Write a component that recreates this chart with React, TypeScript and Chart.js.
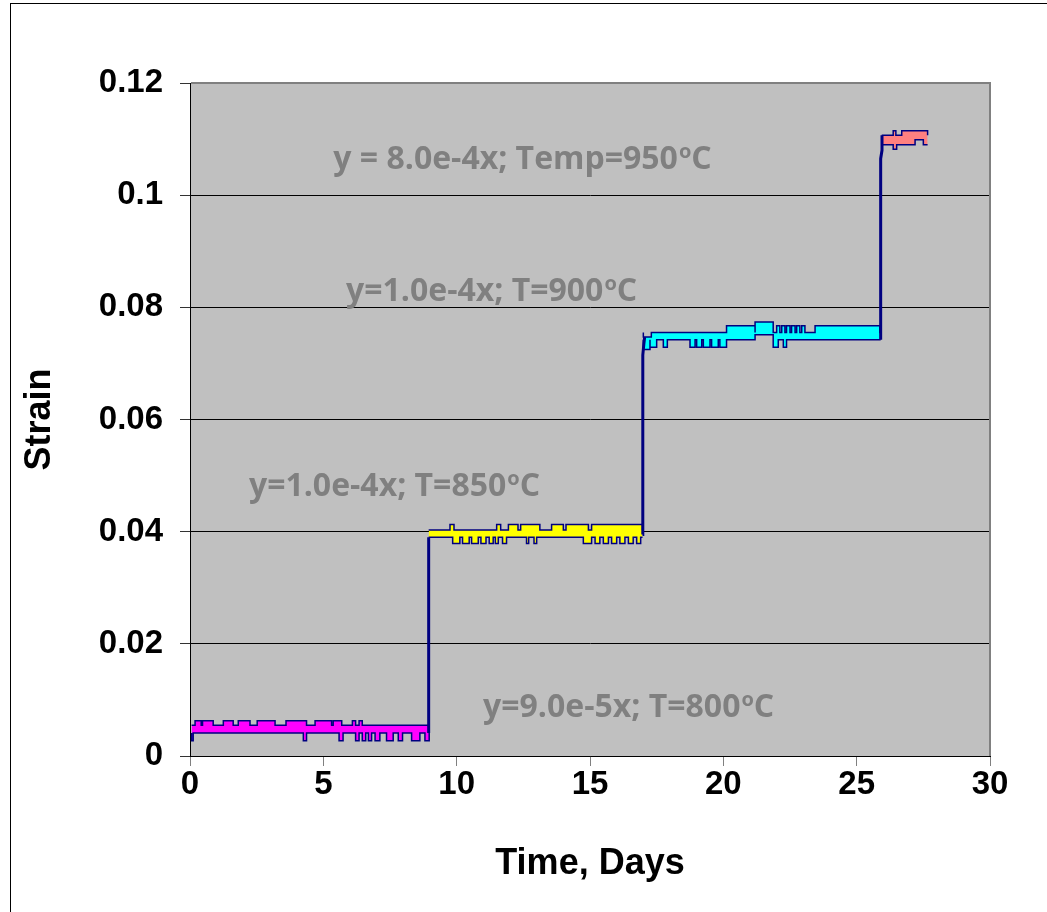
import { useEffect, useRef } from 'react';
import { Chart, registerables } from 'chart.js';

Chart.register(...registerables);

type Span = [number, number, number]; // [startDay, endDay, strain level]

const xTickValues = [0, 5, 10, 15, 20, 25, 30];
const yTickValues = [0, 0.02, 0.04, 0.06, 0.08, 0.1, 0.12];
const yTickLabels = ['0', '0.02', '0.04', '0.06', '0.08', '0.1', '0.12'];

// 800 °C band (magenta)
const magentaSpan = [0.06, 8.97];
const magentaTop = 0.0055;
const magentaBottom = 0.0041;
const magentaPeaks: Span[] = [
  [0.19, 0.42, 0.0063], [0.47, 0.87, 0.0063], [1.25, 1.62, 0.0063], [1.81, 2.25, 0.0063],
  [2.52, 3.19, 0.0063], [3.6, 4.37, 0.0063], [4.69, 5.31, 0.0063], [5.37, 5.69, 0.0063],
  [6.09, 6.21, 0.0063], [6.34, 6.46, 0.0063],
];
const magentaDips: Span[] = [
  [0.06, 0.12, 0.0027], [4.25, 4.37, 0.0027], [5.59, 5.74, 0.0027], [6.21, 6.34, 0.0027],
  [6.46, 6.59, 0.0027], [6.69, 6.81, 0.0027], [6.94, 7.12, 0.0027], [7.37, 7.62, 0.0027],
  [7.81, 7.97, 0.0027], [8.31, 8.62, 0.0027], [8.81, 8.97, 0.0027],
];

// 850 °C band (yellow)
const yellowSpan = [8.95, 16.97];
const yellowTop = 0.0403;
const yellowBottom = 0.039;
const yellowPeaks: Span[] = [
  [9.75, 9.9, 0.0413], [11.5, 11.65, 0.0413], [11.94, 12.3, 0.0413], [12.4, 13.12, 0.0413],
  [13.56, 14.0, 0.0413], [14.1, 14.94, 0.0413], [15.06, 16.97, 0.0413],
];
const yellowDips: Span[] = [
  [9.85, 10.12, 0.0379], [10.22, 10.47, 0.0379], [10.56, 10.81, 0.0379], [10.91, 11.1, 0.0379],
  [11.22, 11.37, 0.0379], [11.45, 11.56, 0.0379], [11.72, 11.87, 0.0379], [12.62, 12.7, 0.0379],
  [12.9, 13.0, 0.0379], [14.75, 15.06, 0.0379], [15.19, 15.37, 0.0379], [15.5, 15.69, 0.0379],
  [15.81, 16.0, 0.0379], [16.12, 16.31, 0.0379], [16.44, 16.62, 0.0379], [16.75, 16.9, 0.0379],
];

// 900 °C band (cyan)
const cyanSpan = [17.0, 25.9];
const cyanTop = 0.0755;
const cyanBottom = 0.0742;
const cyanPeaks: Span[] = [
  [17.0, 17.3, 0.0747], [20.12, 21.19, 0.0767], [21.19, 21.87, 0.0774], [22.0, 22.12, 0.0767],
  [22.19, 22.31, 0.0767], [22.37, 22.5, 0.0767], [22.56, 22.69, 0.0767], [22.75, 22.87, 0.0767],
  [22.94, 23.06, 0.0767], [23.44, 25.87, 0.0767],
];
const cyanDips: Span[] = [
  [17.0, 17.25, 0.0725], [17.25, 17.5, 0.0729], [17.75, 17.9, 0.0729], [18.75, 18.94, 0.0729],
  [19.0, 19.19, 0.0729], [19.25, 19.5, 0.0729], [19.56, 19.81, 0.0729], [19.87, 20.12, 0.0729],
  [21.19, 21.87, 0.0751], [21.87, 22.06, 0.0729], [22.25, 22.37, 0.0729],
];

// 950 °C band (salmon)
const salmonSpan = [25.94, 27.66];
const salmonTop = 0.1107;
const salmonBottom = 0.109;
const salmonPeaks: Span[] = [[26.37, 26.47, 0.1115], [26.69, 27.66, 0.1115]];
const salmonDips: Span[] = [[26.37, 26.5, 0.1082], [27.19, 27.5, 0.1099]];

// temperature-change jumps (navy line)
const jump1Days = [8.95, 8.95];
const jump1Strain = [0.0041, 0.039];
const jump2Days = [16.97, 16.98, 17.02, 17.05];
const jump2Strain = [0.0395, 0.0715, 0.0735, 0.0747];
const jump3Days = [25.9, 25.9, 25.95, 25.95];
const jump3Strain = [0.0742, 0.1065, 0.108, 0.1107];

// fit annotations
const noteTexts = ['y = 8.0e-4x; Temp=950', 'y=1.0e-4x; T=900', 'y=1.0e-4x; T=850', 'y=9.0e-5x; T=800'];
const noteDays = [5.375, 5.85, 2.21, 10.99];
const noteStrain = [0.1046, 0.0812, 0.0464, 0.007];

const NAVY = '#000080';

function stepLine(start: number, end: number, base: number, spans: Span[]) {
  const pts: { x: number; y: number }[] = [{ x: start, y: base }];
  for (const [a, b, v] of spans) {
    pts.push({ x: a, y: base }, { x: a, y: v }, { x: b, y: v }, { x: b, y: base });
  }
  pts.push({ x: end, y: base });
  return pts;
}

function bandDatasets(span: number[], top: number, bottom: number, peaks: Span[], dips: Span[], color: string) {
  return [
    {
      data: stepLine(span[0], span[1], top, peaks),
      borderColor: NAVY, borderWidth: 1.5, pointRadius: 0, fill: false, tension: 0,
    },
    {
      data: stepLine(span[0], span[1], bottom, dips),
      borderColor: NAVY, borderWidth: 1.5, pointRadius: 0, fill: '-1', backgroundColor: color, tension: 0,
    },
  ];
}

function jumpDataset(days: number[], strain: number[]) {
  return {
    data: days.map((d, i) => ({ x: d, y: strain[i] })),
    borderColor: NAVY, borderWidth: 3, pointRadius: 0, fill: false, tension: 0,
  };
}

const plotPlugin = {
  id: 'plotDecor',
  beforeDraw(chart: any) {
    const { ctx, chartArea: a } = chart;
    ctx.save();
    ctx.fillStyle = '#C0C0C0';
    ctx.fillRect(a.left, a.top, a.right - a.left, a.bottom - a.top);
    ctx.restore();
  },
  beforeDatasetsDraw(chart: any) {
    const { ctx, chartArea: a } = chart;
    ctx.save();
    ctx.strokeStyle = '#808080';
    ctx.lineWidth = 2;
    ctx.beginPath();
    ctx.moveTo(a.left + 1, a.top);
    ctx.lineTo(a.right, a.top);
    ctx.lineTo(a.right, a.bottom);
    ctx.stroke();
    ctx.restore();
  },
  afterDatasetsDraw(chart: any) {
    const { ctx } = chart;
    const xs = chart.scales.x;
    const ys = chart.scales.y;
    ctx.save();
    ctx.fillStyle = '#808080';
    ctx.textAlign = 'left';
    ctx.textBaseline = 'alphabetic';
    noteTexts.forEach((t, i) => {
      const px = xs.getPixelForValue(noteDays[i]);
      const py = ys.getPixelForValue(noteStrain[i]);
      ctx.font = 'bold 32px "Open Sans"';
      ctx.fillText(t, px, py);
      let w = ctx.measureText(t).width;
      ctx.font = 'bold 20px "Open Sans"';
      ctx.fillText('o', px + w + 1, py - 11);
      w += ctx.measureText('o').width + 1;
      ctx.font = 'bold 32px "Open Sans"';
      ctx.fillText('C', px + w, py);
    });
    ctx.restore();
  },
};

export default function App() {
  const ref = useRef<HTMLCanvasElement>(null);
  useEffect(() => {
    const datasets: any[] = [
      jumpDataset(jump1Days, jump1Strain),
      jumpDataset(jump2Days, jump2Strain),
      jumpDataset(jump3Days, jump3Strain),
      ...bandDatasets(magentaSpan, magentaTop, magentaBottom, magentaPeaks, magentaDips, '#FF00FF'),
      ...bandDatasets(yellowSpan, yellowTop, yellowBottom, yellowPeaks, yellowDips, '#FFFF00'),
      ...bandDatasets(cyanSpan, cyanTop, cyanBottom, cyanPeaks, cyanDips, '#00FFFF'),
      ...bandDatasets(salmonSpan, salmonTop, salmonBottom, salmonPeaks, salmonDips, '#FF8080'),
    ];
    const font = 'Liberation Sans, Arial, sans-serif';
    const chart = new Chart(ref.current!, {
      type: 'line',
      data: { datasets },
      plugins: [plotPlugin],
      options: {
        responsive: false,
        animation: false,
        devicePixelRatio: 1,
        layout: { padding: { left: 12, top: 83, right: 57, bottom: 16 } },
        plugins: { legend: { display: false }, tooltip: { enabled: false } },
        elements: { line: { borderJoinStyle: 'miter' } },
        scales: {
          x: {
            type: 'linear', min: 0, max: 30,
            afterBuildTicks: (s: any) => { s.ticks = xTickValues.map((v) => ({ value: v })); },
            afterFit: (s: any) => { s.height = 140; },
            ticks: { autoSkip: false, maxRotation: 0, color: '#000', padding: -1, font: { family: font, size: 33, weight: 'bold' } },
            grid: { drawOnChartArea: false, drawTicks: true, tickLength: 10, tickColor: '#808080', tickWidth: 1 },
            border: { color: '#000', width: 1 },
            title: { display: true, text: 'Time, Days', color: '#000', font: { family: font, size: 36, weight: 'bold' }, padding: { top: 0, bottom: 10 } },
          },
          y: {
            type: 'linear', min: 0, max: 0.12,
            afterBuildTicks: (s: any) => { s.ticks = yTickValues.map((v) => ({ value: v })); },
            afterFit: (s: any) => { s.width = 178; },
            ticks: { color: '#000', padding: 17, font: { family: font, size: 33, weight: 'bold' }, callback: (_v: any, i: number) => yTickLabels[i] },
            grid: { color: '#000', lineWidth: 1, tickLength: 10, tickColor: '#333', tickWidth: 1 },
            border: { color: '#000', width: 1 },
            title: { display: true, text: 'Strain', color: '#000', font: { family: font, size: 36, weight: 'bold' }, padding: { top: 6, bottom: 0 } },
          },
        },
      } as any,
    });
    return () => chart.destroy();
  }, []);
  return (
    <div style={{ position: 'fixed', left: 0, top: 0, width: 1047, height: 912, overflow: 'hidden', background: '#fff' }}>
      <div style={{ position: 'absolute', left: 10, top: 3, width: 1100, height: 1000, border: '1px solid #000', boxSizing: 'border-box' }} />
      <canvas ref={ref} width={1047} height={912} style={{ position: 'absolute', left: 0, top: 0, width: 1047, height: 912 }} />
    </div>
  );
}
